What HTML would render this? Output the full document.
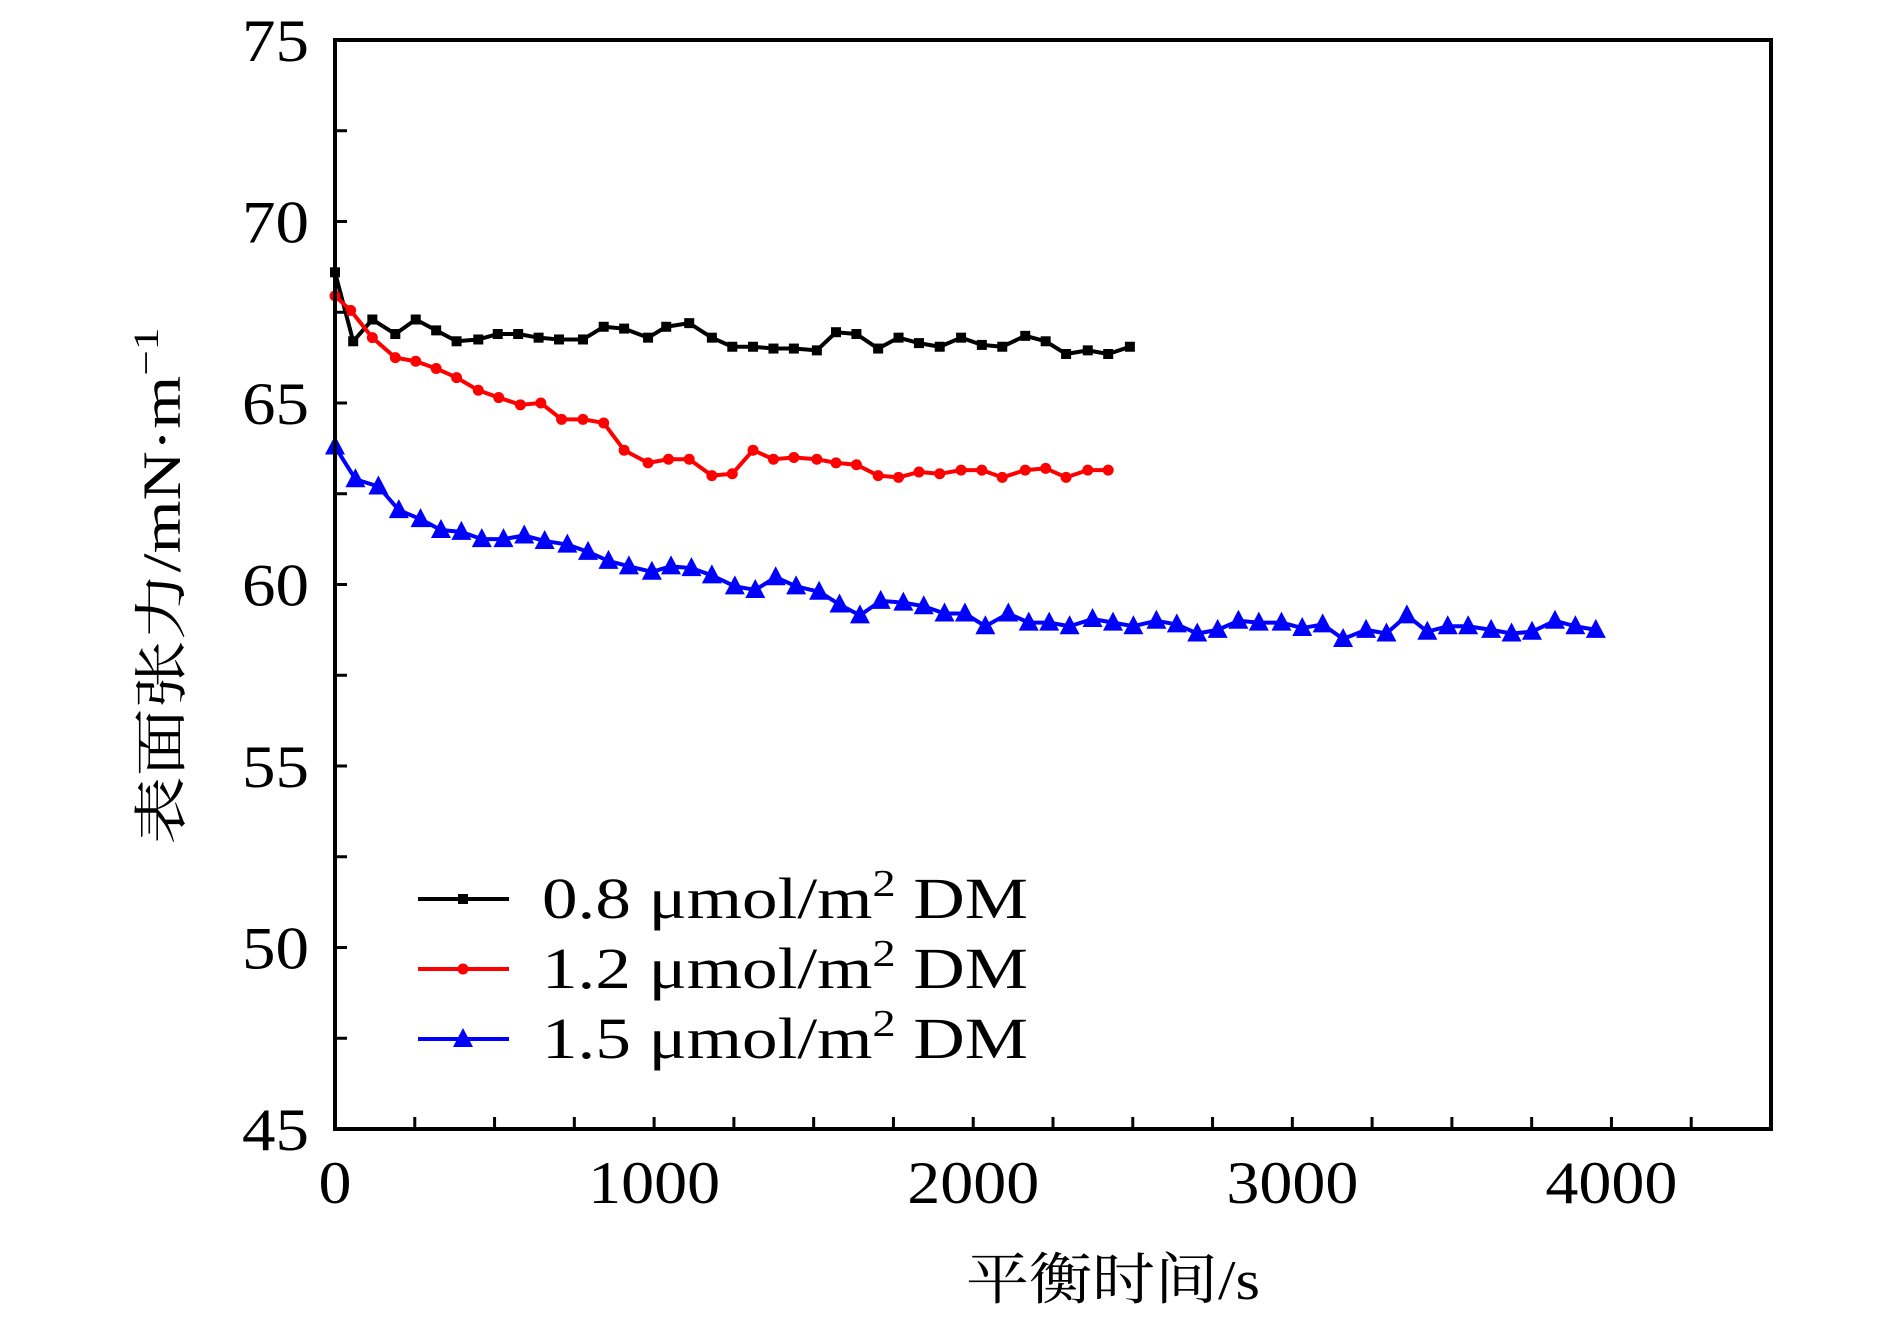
<!DOCTYPE html>
<html><head><meta charset="utf-8"><style>
body{margin:0;background:#fff;}
svg{display:block;}
text{font-family:"Liberation Serif","Noto Serif CJK SC",serif;fill:#000;}
</style></head><body>
<svg id="chart" width="1890" height="1323" viewBox="0 0 1890 1323" xmlns="http://www.w3.org/2000/svg">
<g id="marks"></g>
<rect x="335" y="40" width="1436" height="1089" fill="none" stroke="#000" stroke-width="4"/>
<g id="ticks"></g>
<text transform="translate(180,586) rotate(-90)" text-anchor="middle" font-size="54" textLength="517" lengthAdjust="spacingAndGlyphs">表面张力/mN·m<tspan font-size="36" dy="-22">−1</tspan></text>
<text x="1113" y="1299" text-anchor="middle" font-size="56" textLength="294" lengthAdjust="spacingAndGlyphs">平衡时间/s</text>
<g id="legend"></g>
</svg>
<script>
const t1=[0,57,117,189,253,317,381,449,510,574,638,702,777,842,906,981,1038,1110,1181,1245,1310,1374,1438,1510,1570,1634,1702,1766,1830,1895,1962,2027,2091,2163,2227,2291,2359,2423,2491];
const v1=[68.6,66.7,67.3,66.9,67.3,67.0,66.7,66.75,66.9,66.9,66.8,66.75,66.75,67.1,67.05,66.8,67.1,67.2,66.8,66.55,66.55,66.5,66.5,66.45,66.95,66.9,66.5,66.8,66.65,66.55,66.8,66.6,66.55,66.85,66.7,66.35,66.45,66.35,66.55];
const t2=[0,49,117,189,253,317,381,449,513,581,645,710,777,842,906,981,1045,1110,1181,1245,1310,1374,1438,1510,1570,1634,1702,1766,1830,1895,1962,2027,2091,2163,2227,2291,2359,2423];
const v2=[67.95,67.55,66.8,66.25,66.15,65.95,65.7,65.35,65.15,64.95,65.0,64.55,64.55,64.45,63.7,63.35,63.45,63.45,63.0,63.05,63.7,63.45,63.5,63.45,63.35,63.3,63.0,62.95,63.1,63.05,63.15,63.15,62.95,63.15,63.2,62.95,63.15,63.15];
const t3=[0,64,136,200,268,332,396,460,528,593,657,728,793,857,921,993,1053,1117,1181,1253,1317,1381,1445,1517,1581,1645,1710,1781,1845,1910,1974,2038,2110,2174,2238,2302,2374,2438,2502,2574,2638,2702,2766,2831,2895,2966,3031,3095,3159,3231,3295,3359,3423,3487,3551,3623,3687,3751,3823,3887,3951];
const v3=[63.8,62.9,62.7,62.05,61.8,61.5,61.45,61.25,61.25,61.35,61.2,61.1,60.9,60.65,60.5,60.35,60.5,60.45,60.25,59.95,59.85,60.2,59.95,59.8,59.45,59.15,59.55,59.5,59.4,59.2,59.2,58.85,59.2,58.95,58.95,58.85,59.05,58.95,58.85,59.0,58.9,58.65,58.75,59.0,58.95,58.95,58.8,58.9,58.5,58.75,58.65,59.15,58.7,58.85,58.85,58.75,58.65,58.7,59.0,58.85,58.75];
const xTicks=[0,1000,2000,3000,4000];
const yTicks=[45,50,55,60,65,70,75];
const legendLabels=["0.8 μmol/m","1.2 μmol/m","1.5 μmol/m"];
const NS="http://www.w3.org/2000/svg";
const X0=335,X1=1771,Y0=1129,Y1=40;
function sx(t){return X0+(t-0)/(4500-0)*(X1-X0);}
function sy(v){return Y0-(v-45)/(75-45)*(Y0-Y1);}
function mk(tag,attrs,parent){const e=document.createElementNS(NS,tag);for(const k in attrs)e.setAttribute(k,attrs[k]);parent.appendChild(e);return e;}
const marks=document.getElementById('marks');
function marker(type,x,y,color,parent){
  let e;
  if(type==='sq')e=mk('rect',{x:x-5,y:y-5,width:10,height:10,fill:color},parent);
  else if(type==='ci')e=mk('circle',{cx:x,cy:y,r:5.5,fill:color},parent);
  else e=mk('polygon',{points:`${x},${y-11} ${x-10},${y+8} ${x+10},${y+8}`,fill:color},parent);
  return e;
}
const series=[[t1,v1,'#000','sq'],[t2,v2,'#f00','ci'],[t3,v3,'#00f','tr']];
series.forEach((s,si)=>{
  const g=mk('g',{},marks);
  
  
  const pts=s[0].map((t,i)=>sx(t)+','+sy(s[1][i])).join(' ');
  const pl=mk('polyline',{points:pts,fill:'none',stroke:s[2],'stroke-width':4,'stroke-linejoin':'round'},g);
  
  
  s[0].forEach((t,i)=>{
    const m=marker(s[3],sx(t),sy(s[1][i]),s[2],g);
    
    
  });
});
const ticks=document.getElementById('ticks');
for(let t=250;t<4500;t+=250){
  const l=mk('line',{x1:sx(t),x2:sx(t),y1:Y0,y2:Y0-12,stroke:'#000','stroke-width':3},ticks);
  
  
}
for(let v=47.5;v<75;v+=2.5){
  const l=mk('line',{x1:X0,x2:X0+12,y1:sy(v),y2:sy(v),stroke:'#000','stroke-width':3},ticks);
  
  
}
xTicks.forEach(t=>{
  const s=String(t);
  const e=mk('text',{x:sx(t),y:1203,'text-anchor':'middle','font-size':60,textLength:s.length*33,lengthAdjust:'spacingAndGlyphs'},ticks);
  e.textContent=s;
  
  
});
yTicks.forEach(v=>{
  const e=mk('text',{x:309,y:sy(v)+21,'text-anchor':'end','font-size':60,textLength:67,lengthAdjust:'spacingAndGlyphs'},ticks);
  e.textContent=v;
  
  
});
const legend=document.getElementById('legend');
series.forEach((s,i)=>{
  const y=899+i*70;
  const g=mk('g',{},legend);
  
  
  mk('line',{x1:418,x2:509,y1:y,y2:y,stroke:s[2],'stroke-width':4},g);
  marker(s[3],463,y,s[2],g);
  const tx=mk('text',{x:542,y:y+19,'font-size':58,textLength:486,lengthAdjust:'spacingAndGlyphs'},g);
  tx.textContent=legendLabels[i];
  const sup=mk('tspan',{'font-size':38,dy:-22},tx);sup.textContent='2';
  const r=mk('tspan',{dy:22},tx);r.textContent=' DM';
});
</script>
</body></html>
